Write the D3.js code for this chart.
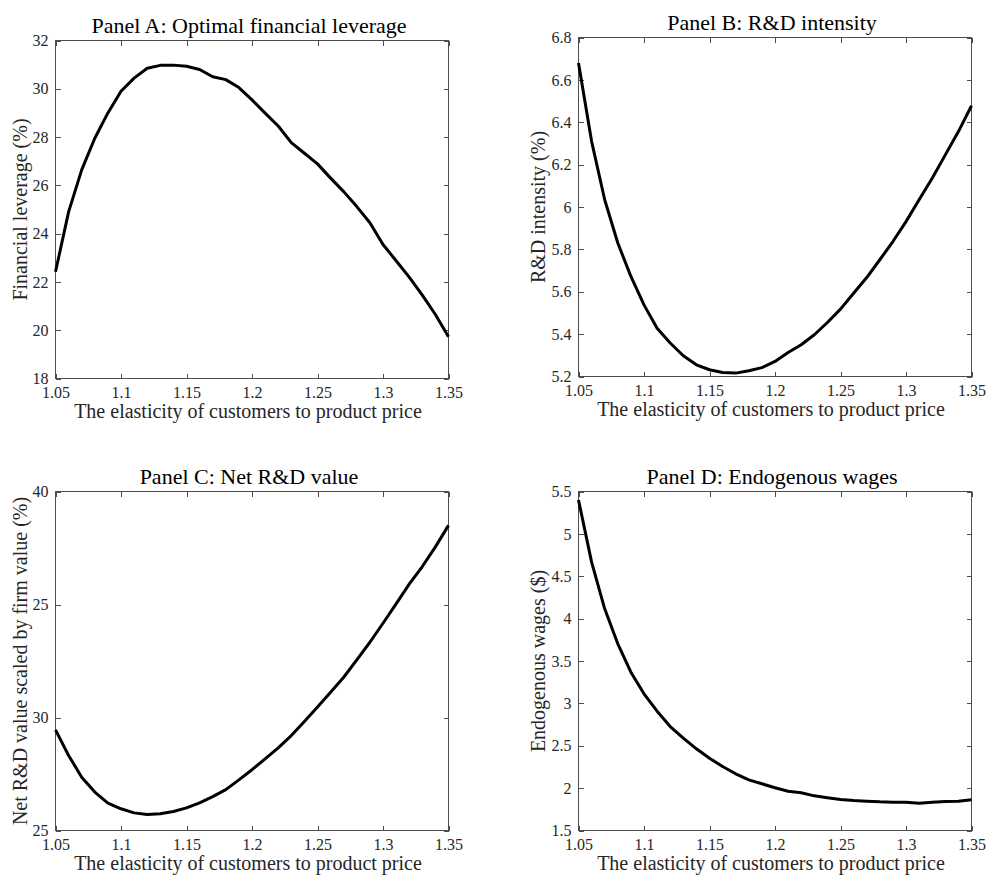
<!DOCTYPE html>
<html>
<head>
<meta charset="utf-8">
<script src="https://cdn.jsdelivr.net/npm/d3@7"></script>
<style>
  body { margin: 0; background: #fff; }
</style>
</head>
<body>
<div id="chart"></div>
<script>
// x values shared by all four panels
const elasticity = [1.05, 1.06, 1.07, 1.08, 1.09, 1.10, 1.11, 1.12, 1.13, 1.14, 1.15,
  1.16, 1.17, 1.18, 1.19, 1.20, 1.21, 1.22, 1.23, 1.24, 1.25,
  1.26, 1.27, 1.28, 1.29, 1.30, 1.31, 1.32, 1.33, 1.34, 1.35];

// Panel A: optimal financial leverage (%)
const leverage = [22.42, 24.9, 26.64, 27.95, 29.0, 29.9, 30.44, 30.85, 30.97, 30.98, 30.93,
  30.8, 30.5, 30.38, 30.05, 29.54, 28.99, 28.46, 27.77, 27.33, 26.89,
  26.3, 25.74, 25.12, 24.45, 23.55, 22.88, 22.2, 21.45, 20.65, 19.73];

// Panel B: R&D intensity (%)
const rdIntensity = [6.68, 6.31, 6.034, 5.83, 5.672, 5.538, 5.428, 5.358, 5.298, 5.255, 5.232,
  5.219, 5.216, 5.227, 5.242, 5.271, 5.313, 5.35, 5.397, 5.455, 5.518,
  5.593, 5.667, 5.751, 5.837, 5.931, 6.034, 6.136, 6.246, 6.356, 6.478];

// Panel C: net R&D value scaled by firm value (%)
const netRdValue = [29.45, 28.32, 27.36, 26.7, 26.21, 25.96, 25.78, 25.71, 25.74, 25.84, 26.0,
  26.22, 26.5, 26.81, 27.24, 27.69, 28.17, 28.66, 29.2, 29.82, 30.46,
  31.12, 31.78, 32.55, 33.33, 34.17, 35.03, 35.9, 36.68, 37.55, 38.5];

// Panel D: endogenous wages ($)
const wages = [5.4, 4.666, 4.116, 3.703, 3.368, 3.113, 2.908, 2.727, 2.589, 2.464, 2.353,
  2.255, 2.169, 2.098, 2.051, 2.004, 1.964, 1.945, 1.909, 1.886, 1.866,
  1.854, 1.846, 1.838, 1.834, 1.834, 1.822, 1.834, 1.842, 1.846, 1.862];

// tick values and labels
const xTicks = [1.05, 1.1, 1.15, 1.2, 1.25, 1.3, 1.35];
const xTickLabels = ["1.05", "1.1", "1.15", "1.2", "1.25", "1.3", "1.35"];
const yTicksA = [18, 20, 22, 24, 26, 28, 30, 32];
const yTickLabelsA = ["18", "20", "22", "24", "26", "28", "30", "32"];
const yTicksB = [5.2, 5.4, 5.6, 5.8, 6.0, 6.2, 6.4, 6.6, 6.8];
const yTickLabelsB = ["5.2", "5.4", "5.6", "5.8", "6", "6.2", "6.4", "6.6", "6.8"];
const yTicksC = [25, 30, 35, 40];
const yTickLabelsC = ["25", "30", "25", "40"];
const yTicksD = [1.5, 2, 2.5, 3, 3.5, 4, 4.5, 5, 5.5];
const yTickLabelsD = ["1.5", "2", "2.5", "3", "3.5", "4", "4.5", "5", "5.5"];

const xLabel = "The elasticity of customers to product price";

const panels = [
  { title: "Panel A: Optimal financial leverage", ylabel: "Financial leverage (%)",
    values: leverage, yDomain: [18, 32], yTicks: yTicksA, yLabels: yTickLabelsA,
    left: 55.5, top: 40.5, width: 393, height: 338, ylabOff: 29 },
  { title: "Panel B: R&D intensity", ylabel: "R&D intensity (%)",
    values: rdIntensity, yDomain: [5.2, 6.8], yTicks: yTicksB, yLabels: yTickLabelsB,
    left: 578.5, top: 37.5, width: 393, height: 339, ylabOff: 34 },
  { title: "Panel C: Net R&D value", ylabel: "Net R&D value scaled by firm value (%)",
    values: netRdValue, yDomain: [25, 40], yTicks: yTicksC, yLabels: yTickLabelsC,
    left: 55.5, top: 491.5, width: 393, height: 339, ylabOff: 29 },
  { title: "Panel D: Endogenous wages", ylabel: "Endogenous wages ($)",
    values: wages, yDomain: [1.5, 5.5], yTicks: yTicksD, yLabels: yTickLabelsD,
    left: 578.5, top: 491.5, width: 393, height: 339, ylabOff: 34 }
];

const axisColor = "#262626";
const lineColor = "#4d4d4d";
const serif = "'Liberation Serif', 'Times New Roman', 'DejaVu Serif', serif";

const svg = d3.select("#chart")
  .append("svg")
  .attr("width", 986)
  .attr("height", 875)
  .style("font-family", serif);

panels.forEach((p) => {
  const g = svg.append("g").attr("transform", `translate(${p.left},${p.top})`);

  const x = d3.scaleLinear().domain([1.05, 1.35]).range([0, p.width]);
  const y = d3.scaleLinear().domain(p.yDomain).range([p.height, 0]);

  const xFmt = (d) => xTickLabels[xTicks.indexOf(d)];
  const yFmt = (d) => p.yLabels[p.yTicks.indexOf(d)];

  // bottom axis with labels, ticks pointing inward
  g.append("g")
    .attr("class", "axis")
    .attr("transform", `translate(0,${p.height})`)
    .call(d3.axisBottom(x).tickValues(xTicks).tickFormat(xFmt)
      .tickSizeInner(-5).tickSizeOuter(0).tickPadding(8));
  // top axis, ticks only
  g.append("g")
    .attr("class", "axis")
    .call(d3.axisTop(x).tickValues(xTicks).tickFormat("")
      .tickSizeInner(-5).tickSizeOuter(0));
  // left axis with labels
  g.append("g")
    .attr("class", "axis")
    .call(d3.axisLeft(y).tickValues(p.yTicks).tickFormat(yFmt)
      .tickSizeInner(-5).tickSizeOuter(0).tickPadding(7));
  // right axis, ticks only
  g.append("g")
    .attr("class", "axis")
    .attr("transform", `translate(${p.width},0)`)
    .call(d3.axisRight(y).tickValues(p.yTicks).tickFormat("")
      .tickSizeInner(-5).tickSizeOuter(0));

  g.selectAll(".axis")
    .attr("font-family", serif)
    .attr("font-size", 16);
  g.selectAll(".axis .domain").remove();
  g.selectAll(".axis line")
    .attr("stroke", lineColor)
    .attr("shape-rendering", "crispEdges");
  g.selectAll(".axis text")
    .attr("fill", axisColor)
    .style("font-family", serif)
    .style("font-size", "16px");

  // box
  g.append("rect")
    .attr("x", 0)
    .attr("y", 0)
    .attr("width", p.width)
    .attr("height", p.height)
    .attr("fill", "none")
    .attr("stroke", lineColor)
    .attr("stroke-width", 1)
    .attr("shape-rendering", "crispEdges");

  // the curve
  const line = d3.line()
    .x((d, i) => x(elasticity[i]))
    .y((d) => y(d));
  g.append("path")
    .datum(p.values)
    .attr("d", line)
    .attr("fill", "none")
    .attr("stroke", "#000")
    .attr("stroke-width", 3)
    .attr("stroke-linejoin", "round");

  // title
  g.append("text")
    .attr("x", p.width / 2 - 3)
    .attr("y", -8)
    .attr("text-anchor", "middle")
    .style("font-family", serif)
    .style("font-size", "22px")
    .attr("fill", "#000")
    .text(p.title);

  // x label
  g.append("text")
    .attr("x", p.width / 2 - 4)
    .attr("y", p.height + 39)
    .attr("text-anchor", "middle")
    .style("font-family", serif)
    .style("font-size", "20px")
    .attr("fill", axisColor)
    .text(xLabel);

  // y label
  g.append("text")
    .attr("transform", `translate(${-p.ylabOff},${p.height / 2}) rotate(-90)`)
    .attr("text-anchor", "middle")
    .style("font-family", serif)
    .style("font-size", "20px")
    .attr("fill", axisColor)
    .text(p.ylabel);
});
</script>
</body>
</html>
